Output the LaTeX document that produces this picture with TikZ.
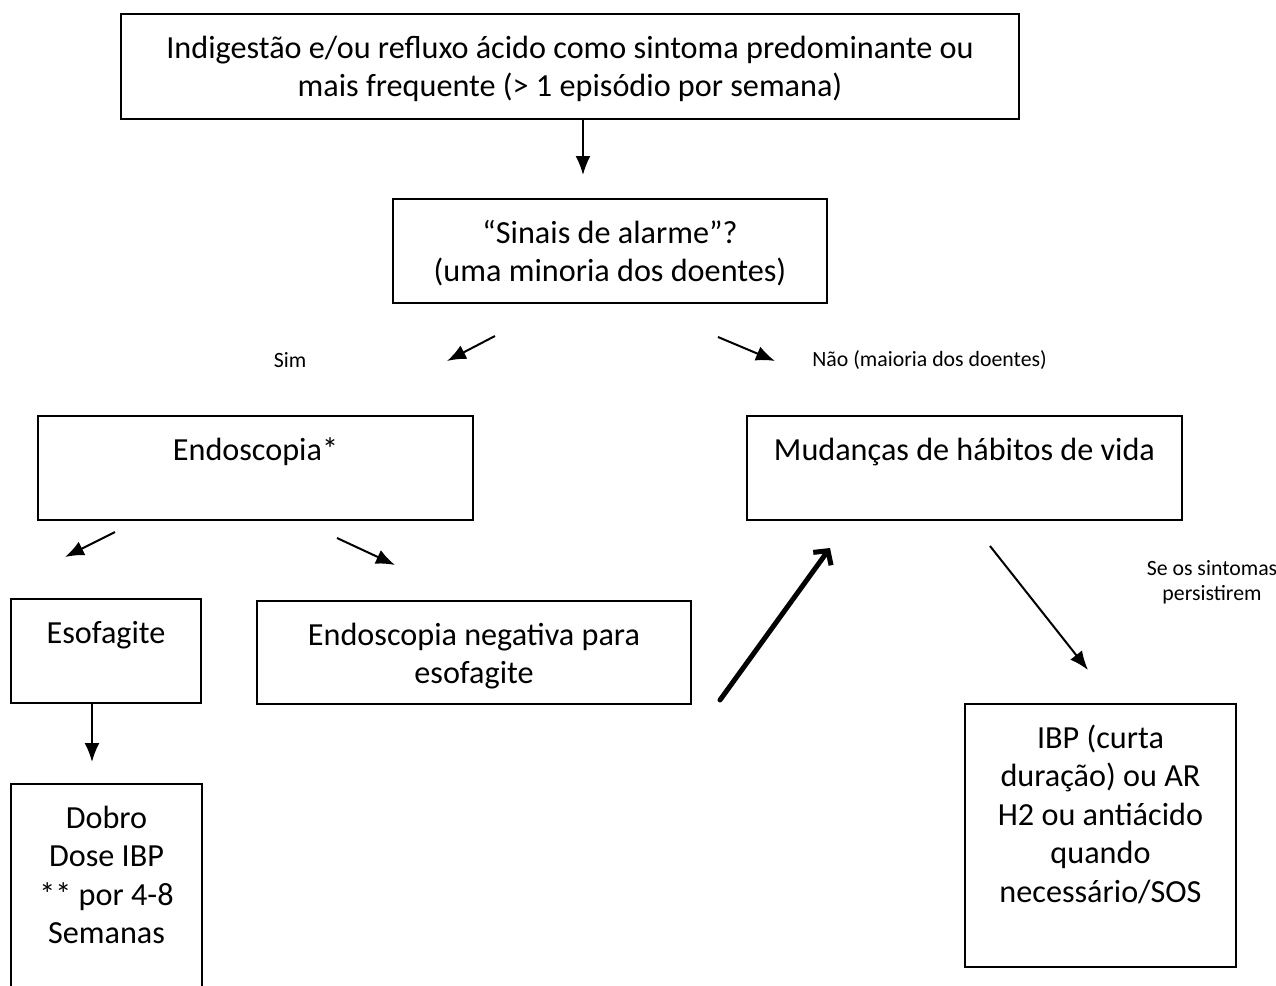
\documentclass[tikz,border=0pt]{standalone}
\usepackage{fontspec}
\setmainfont{Carlito}
\usetikzlibrary{arrows.meta}
\tikzset{
    box/.style={
      rectangle,
           draw=black, line width=1pt,
           inner sep=0pt,
           align=flush center,
           anchor=north west,
           text height=22pt,
           font=\fontsize{16.1pt}{19.25pt}\selectfont,
           },
}
\tikzset{
    note/.style={
           inner sep=0pt,
           align=flush center,
           font=\fontsize{10.9pt}{12.6pt}\selectfont,
           },
}
\tikzset{
    pointer/.style={
           draw=black, line width=1pt,
           -{Latex[length=9.5pt,width=7.5pt]},
           },
}
\tikzset{
    bigpointer/.style={
           draw=black, line width=2.5pt, line cap=round,
           -{Straight Barb[length=5pt,width=11pt]},
           },
}
\begin{document}
\begin{tikzpicture}[x=0.5pt,y=-0.5pt]

\useasboundingbox (0,0) rectangle (1276,986);
\clip (0,0) rectangle (1276,986);

\node[box,text width=449pt,text depth=30.5pt](sym) at (120,13){Indigestão e/ou refluxo ácido como sintoma predominante ou\\mais frequente (> 1 episódio por semana)};
\node[box,text width=217pt,text depth=30pt](alarm) at (392,198){“Sinais de alarme”?\\(uma minoria dos doentes)};

\coordinate (alarmin) at (583,175);
\draw[pointer] (sym.south -| alarmin) -- (alarmin);

\node[note](sim) at (290,360){Sim};
\node[note,anchor=west](nao) at (812,360){Não (maioria dos doentes)};

\coordinate (simfrom) at (495,336);
\coordinate (simto) at (447,361);
\coordinate (naofrom) at (718,337);
\coordinate (naoto) at (775,361);
\draw[pointer] (simfrom) -- (simto);
\draw[pointer] (naofrom) -- (naoto);

\node[box,text width=217.5pt,text depth=30pt](endo) at (37,415){Endoscopia*};
\node[box,text width=217.5pt,text depth=30pt](habits) at (746,415){Mudanças de hábitos de vida};

\coordinate (esoffrom) at (115,532);
\coordinate (esofto) at (65,557);
\coordinate (negfrom) at (337,538);
\coordinate (negto) at (395,565);
\draw[pointer] (esoffrom) -- (esofto);
\draw[pointer] (negfrom) -- (negto);

\node[box,text width=95pt,text depth=30pt](esof) at (10,598){Esofagite};
\node[box,text width=217pt,text depth=29.5pt](neg) at (256,600){Endoscopia negativa para\\esofagite};

% back to lifestyle
\coordinate (backfrom) at (720,700);
\coordinate (backto) at (830,548);
\draw[bigpointer] (backfrom) -- (backto);

\coordinate (ibpfrom) at (990,546);
\coordinate (ibpto) at (1088,670);
\draw[pointer] (ibpfrom) -- (ibpto);
\node[note](persist) at (1212,582){Se os sintomas\\persistirem};

\coordinate (dosein) at (92,762);
\draw[pointer] (esof.south -| dosein) -- (dosein);

\node[box,text width=95.5pt,text depth=93pt](dose) at (10,783){Dobro\\Dose IBP\\{}** por 4-8\\Semanas};
\node[box,text width=135.5pt,text depth=109.5pt](ibp) at (964,703){IBP (curta\\duração) ou AR\\H2 ou antiácido\\quando\\necessário/SOS};

\end{tikzpicture}
\end{document}
